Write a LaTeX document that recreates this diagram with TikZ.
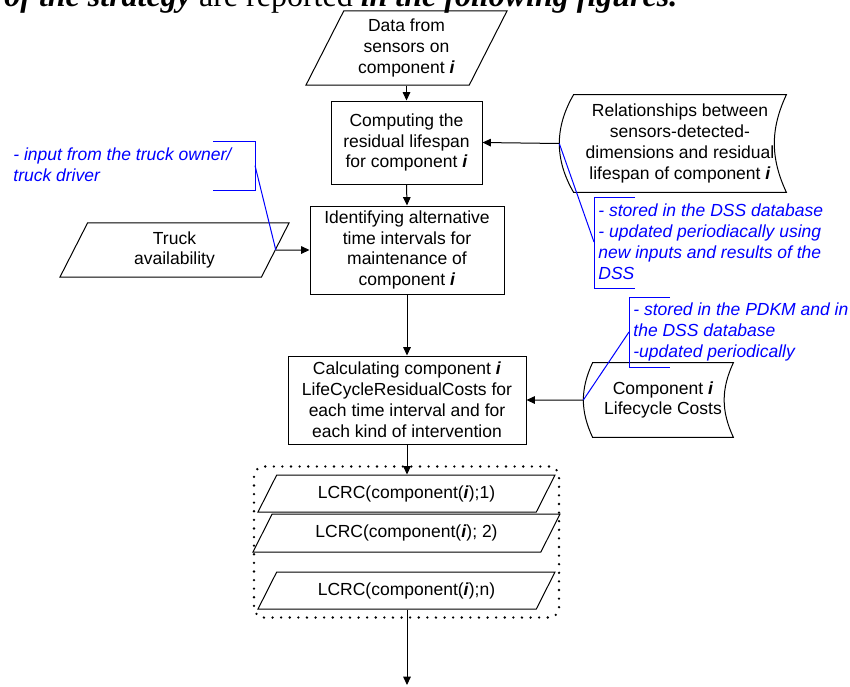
\documentclass[tikz,border=0pt]{standalone}
\usepackage{fontspec}
\setmainfont{Liberation Sans}
\newfontfamily\bodyserif{Liberation Serif}
\usetikzlibrary{shapes.geometric,arrows.meta,fit}

\newcommand{\ci}{\textbf{\textit{i}}}

\begin{document}
\begin{tikzpicture}[x=0.5pt,y=-0.5pt,
  every node/.style={font=\fontsize{8.75pt}{10.45pt}\selectfont},
  arr/.style={-{Triangle[length=4.2pt,width=3.8pt]}, line width=0.5pt},
  procbox/.style={draw, rectangle, inner sep=0pt, align=center, line width=0.5pt},
  iobox/.style={draw, trapezium, trapezium left angle=63, trapezium right angle=117,
    trapezium stretches body, inner xsep=0pt, align=center, line width=0.5pt},
  storebox/.style={inner sep=0pt, align=center},
  note/.style={blue, align=left, anchor=west, inner sep=1pt,
    font=\fontsize{8.75pt}{10.45pt}\selectfont\itshape},
  noteline/.style={blue, line width=0.5pt},
  dotframe/.style={dash pattern=on 0pt off 4.3pt, line cap=round, line width=1.3pt}]

  \useasboundingbox (0,0) rectangle (850,686);

  % Text above
  \node[anchor=base west, inner sep=0pt, font=\bodyserif\fontsize{16pt}{18pt}\selectfont]
    (caption) at (4,6) {\textbf{\textit{of the strategy}} are reported \textbf{\textit{in the following figures.}}};

  % Main column
  \node[iobox, inner ysep=4pt, minimum width=100.5pt, minimum height=37pt] (data) at (406.5,48)
    {Data from\\sensors on\\component \ci};
  \node[procbox, minimum width=75.5pt, minimum height=41.5pt] (comp) at (406.5,142.5)
    {Computing the\\residual lifespan\\for component \ci};
  \node[procbox, minimum width=97pt, minimum height=44pt] (ident) at (407,250)
    {Identifying alternative\\time intervals for\\maintenance of\\component \ci};
  \node[procbox, minimum width=119pt, minimum height=44pt] (calc) at (407,400)
    {Calculating component \ci\\LifeCycleResidualCosts for\\each time interval and for\\each kind of intervention};

  % Truck input
  \node[iobox, inner ysep=4.2pt, minimum width=114.5pt, minimum height=27pt] (truck) at (174.5,250)
    {Truck\\availability};

  % Stored data
  \node[storebox, minimum width=106pt, minimum height=48.5pt] (rel) at (680,143.5)
    {Relationships between\\sensors-detected-\\dimensions and residual\\lifespan of component \ci};
  \draw[line width=0.5pt] (rel.north west) to[bend right=30] coordinate[pos=0.5] (relL) (rel.south west)
    -- (rel.south east) to[bend left=25] (rel.north east) -- cycle;
  \node[storebox, minimum width=70pt, minimum height=37pt] (life) at (663,400)
    {Component \ci\\Lifecycle Costs};
  \draw[line width=0.5pt] (life.north west) to[bend right=25] coordinate[pos=0.5] (lifeL) (life.south west)
    -- (life.south east) to[bend left=25] (life.north east) -- cycle;

  % Results
  \node[iobox, inner ysep=5.1pt, minimum width=148.5pt, minimum height=18.5pt] (lcrc1) at (406.5,493.5)
    {LCRC(component(\ci);1)};
  \node[iobox, inner ysep=5.3pt, minimum width=153.5pt, minimum height=19pt] (lcrc2) at (406.5,533)
    {LCRC(component(\ci); 2)};
  \node[iobox, inner ysep=5.1pt, minimum width=148.5pt, minimum height=18.5pt] (lcrcn) at (406.5,590.5)
    {LCRC(component(\ci);n)};
  \node[draw, dotframe, rounded corners=5pt, inner sep=4pt, fit=(lcrc1)(lcrc2)(lcrcn)] (group) {};
  \coordinate (end) at (407,685);

  % Arrows
  \draw[arr] (data.south -| comp.north) -- (comp.north);
  \draw[arr] (comp.south) -- (ident.north);
  \draw[arr] (ident.south) -- (calc.north);
  \draw[arr] (calc.south) -- (lcrc1.north -| calc.south);
  \draw[arr] (lcrcn.south -| end) -- (end);
  \draw[arr] (truck.east) -- (ident.west);
  \draw[arr] (relL) -- (comp.east);
  \draw[arr] (lifeL) -- (calc.east);

  % Notes
  \node[note] (truckNote) at (11,165) {- input from the truck owner/\\truck driver};
  \draw[noteline] (213,141) -- (255,141) -- (255,190) -- (213,190);
  \coordinate (truckTag) at (255,165.5);
  \draw[noteline] (truckTag) -- (truck.east);

  \node[note] (dssNote) at (596,242)
    {- stored in the DSS database\\- updated periodiacally using\\new inputs and results of the\\DSS};
  \draw[noteline] (635,197) -- (594,197) -- (594,288) -- (635,288);
  \coordinate (dssTag) at (594,242);
  \draw[noteline] (relL) -- (dssTag);

  \node[note] (pdkmNote) at (631,332)
    {- stored in the PDKM and in\\the DSS database\\-updated periodically};
  \draw[noteline] (670,297) -- (629,297) -- (629,367) -- (670,367);
  \coordinate (pdkmTag) at (629,332);
  \draw[noteline] (lifeL) -- (pdkmTag);
\end{tikzpicture}
\end{document}
